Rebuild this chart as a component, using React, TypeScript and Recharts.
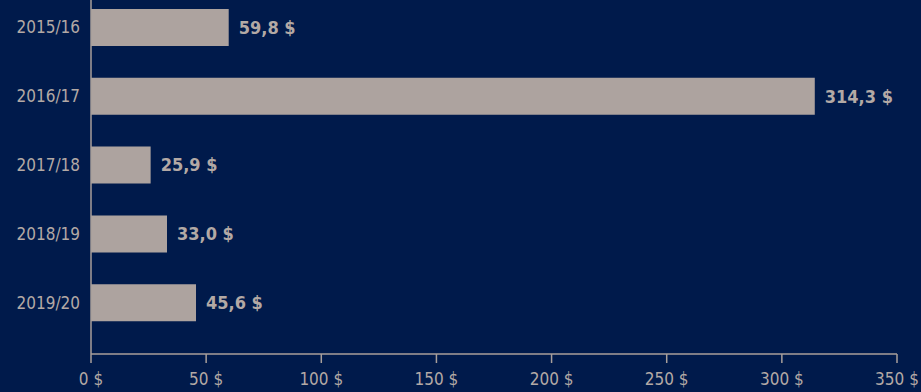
import { BarChart, Bar, XAxis, YAxis, LabelList } from "recharts";

const seasons = ["2015/16", "2016/17", "2017/18", "2018/19", "2019/20"];
const amounts = [59.8, 314.3, 25.9, 33.0, 45.6];
const xTicks = [0, 50, 100, 150, 200, 250, 300, 350];

const data = seasons.map((season, i) => ({ season, amount: amounts[i] }));

const font = "'DejaVu Sans Condensed', 'DejaVu Sans', sans-serif";
const textColor = "#b3a9a5";

const money = (v: number) => v.toFixed(1).replace(".", ",") + " $";

export default function App() {
  return (
    <div
      style={{
        position: "fixed",
        left: 0,
        top: 0,
        width: 921,
        height: 392,
        background: "#001a4b",
        overflow: "hidden",
      }}
    >
      <div style={{ position: "absolute", left: 0, top: -7 }}>
        <BarChart
          width={921}
          height={399}
          data={data}
          layout="vertical"
          margin={{ top: 0, right: 24, bottom: 0, left: 0 }}
        >
          <XAxis
            type="number"
            domain={[0, 350]}
            ticks={xTicks}
            tickFormatter={(v) => `${v} $`}
            height={38}
            axisLine={{ stroke: "#a89f9a", strokeWidth: 1.5 }}
            tickLine={{ stroke: "#a89f9a", strokeWidth: 1.5 }}
            tickSize={9}
            tickMargin={10}
            tick={{ fill: textColor, fontSize: 17, fontFamily: font }}
            interval={0}
          />
          <YAxis
            type="category"
            dataKey="season"
            width={91}
            padding={{ top: 0, bottom: 17 }}
            axisLine={{ stroke: "#a89f9a", strokeWidth: 1.5 }}
            tickLine={false}
            tickMargin={5}
            tick={{ fill: textColor, fontSize: 17, fontFamily: font }}
          />
          <Bar dataKey="amount" fill="#ada39f" barSize={37} isAnimationActive={false}>
            <LabelList
              dataKey="amount"
              position="right"
              offset={10}
              formatter={(v: any) => money(Number(v))}
              style={{ fill: textColor, fontSize: 18, fontWeight: "bold", fontFamily: font }}
            />
          </Bar>
        </BarChart>
      </div>
    </div>
  );
}
